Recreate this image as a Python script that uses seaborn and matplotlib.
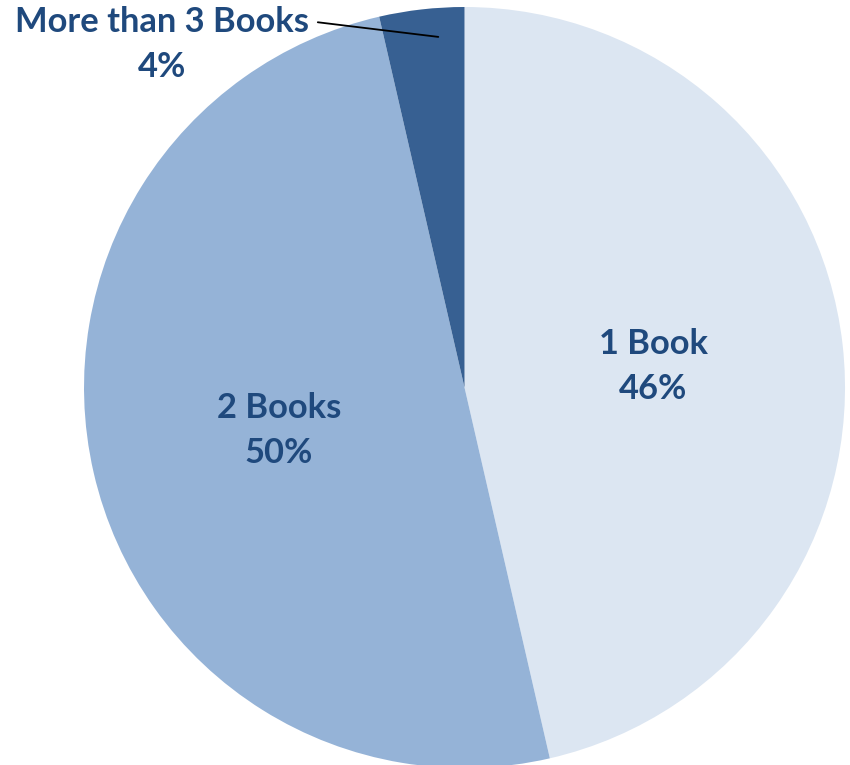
import matplotlib
matplotlib.use("Agg")
import matplotlib.pyplot as plt
import seaborn as sns
import numpy as np

categories = ["1 Book", "2 Books", "More than 3 Books"]
values = [46.4, 50.0, 3.6]
colors = ["#DCE6F2", "#95B3D7", "#376092"]
text_color = "#1F497D"

sns.set_style("white")
plt.rcParams['font.family'] = ['Lato', 'DejaVu Sans']

fig = plt.figure(figsize=(8.5, 7.65), dpi=100)
ax = fig.add_axes([0, 0, 1, 1])
wedges, _ = ax.pie(values, colors=colors, startangle=90, counterclock=False,
                   radius=1.0, wedgeprops=dict(linewidth=0))
ax.set_xlim(-1.2208, 1.0131)
ax.set_ylim(-0.9921, 1.0184)
ax.set_aspect('auto')
ax.axis('off')

fs = 24.8
ls = 1.5
for w, cat, v in zip(wedges[:2], categories[:2], values[:2]):
    mid = np.deg2rad((w.theta1 + w.theta2) / 2)
    ax.text(0.5 * np.cos(mid), 0.5 * np.sin(mid), f"{cat}\n{round(v)}%",
            ha='center', va='center', fontsize=fs, fontweight='bold',
            color=text_color, linespacing=ls)

w = wedges[2]
lo, hi = min(w.theta1, w.theta2), max(w.theta1, w.theta2)
ang = np.deg2rad(lo + 0.33 * (hi - lo))
ax.annotate(f"{categories[2]}\n{round(values[2])}%",
            xy=(0.924 * np.cos(ang), 0.924 * np.sin(ang)),
            xytext=(-0.795, 0.902), ha='center', va='center',
            fontsize=fs, fontweight='bold', color=text_color, linespacing=ls,
            arrowprops=dict(arrowstyle='-', color='black', lw=1.3,
                            relpos=(1.0, 0.8), shrinkA=4, shrinkB=0))

fig.savefig("out.png", dpi=100)
